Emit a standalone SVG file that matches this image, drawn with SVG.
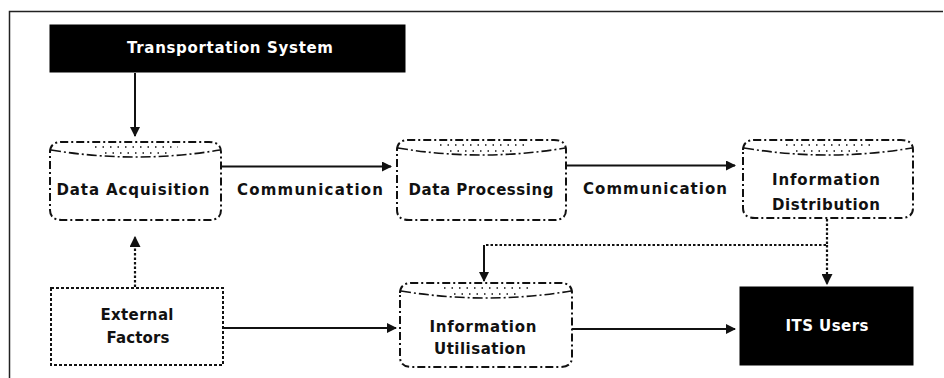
<svg xmlns="http://www.w3.org/2000/svg" width="944" height="378" viewBox="0 0 944 378">
<style>
.t{font-family:"DejaVu Sans","Liberation Sans",sans-serif;font-size:15px;font-weight:bold;fill:#111;text-anchor:middle}
.tw{font-family:"DejaVu Sans","Liberation Sans",sans-serif;font-size:15px;font-weight:bold;fill:#fff;text-anchor:middle}
.cyl{fill:#fff;stroke:#111;stroke-width:2;stroke-dasharray:8 3 2 3}
.cap{fill:none;stroke:#111;stroke-width:1.6;stroke-dasharray:10 3 2 3}
.dots{fill:none;stroke:#111;stroke-width:1.6;stroke-dasharray:1.5 6}
.blk{fill:#000;stroke:#000;stroke-width:1}
.box{fill:#fff;stroke:#111;stroke-width:2;stroke-dasharray:3 2}
.ln{fill:none;stroke:#111;stroke-width:2}
.dl{fill:none;stroke:#111;stroke-width:2.2;stroke-dasharray:2.5 2}
</style>
<defs>
<marker id="ah" viewBox="0 0 10 10" refX="9" refY="5" markerWidth="5" markerHeight="5" orient="auto" markerUnits="strokeWidth">
<path d="M0,0 L10,5 L0,10 Z" fill="#111"/>
</marker>
</defs>
<path d="M9.5,378 V11.5 H943" fill="none" stroke="#222" stroke-width="1.5"/>

<g id="connectors">
<path class="ln" d="M135,73 V136" marker-end="url(#ah)"/>
<path class="dl" d="M135,287 V237" marker-end="url(#ah)"/>
<path class="ln" d="M221,166.5 H391" marker-end="url(#ah)"/>
<path class="ln" d="M566,165.5 H735" marker-end="url(#ah)"/>
<path class="dl" d="M827,219 V245 H484"/>
<path class="ln" d="M484,245 V281" marker-end="url(#ah)"/>
<path class="dl" d="M827,245 V284" marker-end="url(#ah)"/>
<path class="ln" d="M224,328 H396" marker-end="url(#ah)"/>
<path class="ln" d="M572,329 H735" marker-end="url(#ah)"/>
<text class="t" x="310" y="195" textLength="146" lengthAdjust="spacing">Communication</text>
<text class="t" x="655" y="194" textLength="144" lengthAdjust="spacing">Communication</text>
</g>

<g id="transportation-system">
<rect class="blk" x="50" y="25" width="355" height="47"/>
<text class="tw" x="230" y="53" textLength="206" lengthAdjust="spacing">Transportation System</text>
</g>

<g id="data-acquisition">
<path class="cyl" d="M50,152 Q50,142 62,142 H209 Q221,142 221,152 V210 Q221,220 209,220 H62 Q50,220 50,210 Z"/>
<path class="cap" d="M51,150 Q135.5,164 220,150"/>
<path class="dots" d="M95,147 H178 M105,153 H168"/>
<text class="t" x="133" y="195" textLength="153" lengthAdjust="spacing">Data Acquisition</text>
</g>

<g id="data-processing">
<path class="cyl" d="M397,150 Q397,140 409,140 H554 Q566,140 566,150 V210 Q566,220 554,220 H409 Q397,220 397,210 Z"/>
<path class="cap" d="M398,148 Q481.5,162 565,148"/>
<path class="dots" d="M440,145 H525 M450,151 H515"/>
<text class="t" x="481" y="195" textLength="145" lengthAdjust="spacing">Data Processing</text>
</g>

<g id="information-distribution">
<path class="cyl" d="M743,150 Q743,140 755,140 H901 Q913,140 913,150 V208 Q913,218 901,218 H755 Q743,218 743,208 Z"/>
<path class="cap" d="M744,148 Q828,162 912,148"/>
<path class="dots" d="M786,145 H872 M796,151 H862"/>
<text class="t" x="826" y="185" textLength="108" lengthAdjust="spacing">Information</text>
<text class="t" x="826" y="210" textLength="108" lengthAdjust="spacing">Distribution</text>
</g>

<g id="external-factors">
<rect class="box" x="51" y="288" width="172" height="77"/>
<text class="t" x="137" y="320" textLength="73" lengthAdjust="spacing">External</text>
<text class="t" x="138" y="343" textLength="63" lengthAdjust="spacing">Factors</text>
</g>

<g id="information-utilisation">
<path class="cyl" d="M400,293 Q400,283 412,283 H560 Q572,283 572,293 V357 Q572,367 560,367 H412 Q400,367 400,357 Z"/>
<path class="cap" d="M401,291 Q486,305 571,291"/>
<path class="dots" d="M444,288 H530 M454,294 H520"/>
<text class="t" x="483" y="332" textLength="107" lengthAdjust="spacing">Information</text>
<text class="t" x="480" y="354" textLength="92" lengthAdjust="spacing">Utilisation</text>
</g>

<g id="its-users">
<rect class="blk" x="740" y="287" width="173" height="78"/>
<text class="tw" x="827" y="331" textLength="83" lengthAdjust="spacing">ITS Users</text>
</g>
</svg>
